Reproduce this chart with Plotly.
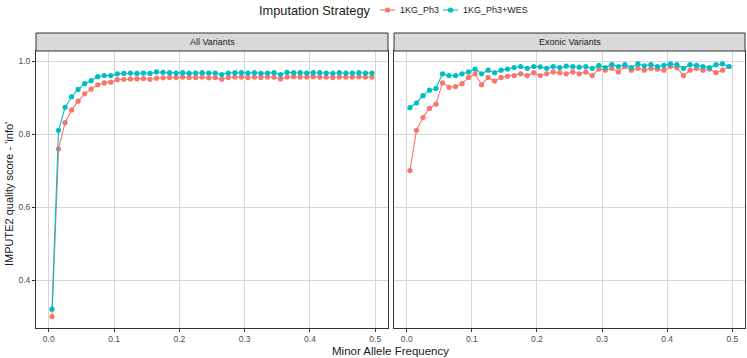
import plotly.graph_objects as go

maf = [0.005, 0.015, 0.025, 0.035, 0.045, 0.055, 0.065, 0.075, 0.085, 0.095,
       0.105, 0.115, 0.125, 0.135, 0.145, 0.155, 0.165, 0.175, 0.185, 0.195,
       0.205, 0.215, 0.225, 0.235, 0.245, 0.255, 0.265, 0.275, 0.285, 0.295,
       0.305, 0.315, 0.325, 0.335, 0.345, 0.355, 0.365, 0.375, 0.385, 0.395,
       0.405, 0.415, 0.425, 0.435, 0.445, 0.455, 0.465, 0.475, 0.485, 0.495]

all_1kg = [0.300, 0.759, 0.831, 0.866, 0.890, 0.910, 0.923, 0.935, 0.940, 0.942,
           0.949, 0.950, 0.951, 0.951, 0.952, 0.950, 0.953, 0.954, 0.955, 0.955,
           0.956, 0.955, 0.955, 0.956, 0.954, 0.955, 0.950, 0.955, 0.956, 0.956,
           0.955, 0.956, 0.955, 0.956, 0.956, 0.951, 0.956, 0.957, 0.956, 0.956,
           0.957, 0.956, 0.956, 0.955, 0.956, 0.956, 0.956, 0.957, 0.956, 0.956]

all_wes = [0.320, 0.810, 0.873, 0.902, 0.922, 0.938, 0.946, 0.957, 0.960, 0.960,
           0.965, 0.966, 0.967, 0.966, 0.967, 0.966, 0.970, 0.969, 0.968, 0.967,
           0.968, 0.966, 0.967, 0.968, 0.967, 0.967, 0.963, 0.967, 0.968, 0.968,
           0.967, 0.968, 0.966, 0.967, 0.968, 0.963, 0.969, 0.968, 0.968, 0.967,
           0.968, 0.968, 0.967, 0.966, 0.968, 0.967, 0.967, 0.968, 0.967, 0.967]

exo_1kg = [0.700, 0.810, 0.845, 0.870, 0.882, 0.940, 0.928, 0.930, 0.938, 0.955,
           0.965, 0.935, 0.955, 0.945, 0.955, 0.958, 0.960, 0.965, 0.960, 0.968,
           0.960, 0.965, 0.970, 0.968, 0.965, 0.970, 0.965, 0.970, 0.960, 0.978,
           0.975, 0.980, 0.970, 0.985, 0.975, 0.980, 0.975, 0.980, 0.978, 0.975,
           0.985, 0.982, 0.960, 0.975, 0.980, 0.975, 0.978, 0.968, 0.975, 0.985]

exo_wes = [0.872, 0.885, 0.905, 0.920, 0.925, 0.965, 0.960, 0.960, 0.965, 0.970,
           0.978, 0.965, 0.975, 0.968, 0.975, 0.978, 0.982, 0.985, 0.980, 0.985,
           0.984, 0.980, 0.985, 0.982, 0.986, 0.985, 0.983, 0.985, 0.980, 0.988,
           0.982, 0.990, 0.985, 0.990, 0.982, 0.992, 0.987, 0.990, 0.985, 0.988,
           0.992, 0.990, 0.980, 0.990, 0.988, 0.985, 0.982, 0.990, 0.992, 0.985]

panel_titles = ["All Variants", "Exonic Variants"]
series_names = ["1KG_Ph3", "1KG_Ph3+WES"]
legend_title = "Imputation Strategy"
colors = ["#F8766D", "#00BFC4"]
x_ticks = [0.0, 0.1, 0.2, 0.3, 0.4, 0.5]
x_ticklabels = ["0.0", "0.1", "0.2", "0.3", "0.4", "0.5"]
y_ticks = [0.4, 0.6, 0.8, 1.0]
y_ticklabels = ["0.4", "0.6", "0.8", "1.0"]

FONT = "Liberation Sans"
W, H = 747, 358


def px(x):
    return x / W


def py(y):
    return 1 - y / H


dom1 = [px(36), px(388)]
dom2 = [px(394), px(745)]
ydom = [py(328), py(51)]
strip_top = py(33)

fig = go.Figure()
panels = [(all_1kg, all_wes, "x", "y"), (exo_1kg, exo_wes, "x2", "y2")]
for pi, (s1, s2, xa, ya) in enumerate(panels):
    for si, vals in enumerate([s1, s2]):
        fig.add_trace(go.Scatter(
            x=maf, y=vals, mode="lines+markers", name=series_names[si],
            line=dict(color=colors[si], width=1.1),
            marker=dict(color=colors[si], size=5.2),
            xaxis=xa, yaxis=ya, showlegend=False,
        ))

tickfont = dict(family=FONT, size=8.5, color="#4d4d4d")
x_common = dict(
    range=[-0.0195, 0.5195], tickvals=x_ticks, ticktext=x_ticklabels,
    showgrid=True, gridcolor="#d6d6d6", gridwidth=1, zeroline=False,
    showline=True, mirror=True, linecolor="#333333", linewidth=1,
    ticks="outside", ticklen=3, tickcolor="#333333", tickfont=tickfont,
    automargin=False,
)
y_common = dict(
    range=[0.2685, 1.0274], tickvals=y_ticks, ticktext=y_ticklabels,
    showgrid=True, gridcolor="#d6d6d6", gridwidth=1, zeroline=False,
    showline=True, mirror=True, linecolor="#333333", linewidth=1,
    tickcolor="#333333", tickfont=tickfont, domain=ydom, automargin=False,
)

fig.update_layout(
    width=W, height=H,
    margin=dict(l=0, r=0, t=0, b=0),
    paper_bgcolor="white", plot_bgcolor="white",
    xaxis=dict(domain=dom1, anchor="y", **x_common),
    xaxis2=dict(domain=dom2, anchor="y2", **x_common),
    yaxis=dict(anchor="x", ticks="outside", ticklen=3, **y_common),
    yaxis2=dict(anchor="x2", ticks="", showticklabels=False, **y_common),
    showlegend=False,
    font=dict(family=FONT),
)

# facet strips
for dom, title in zip([dom1, dom2], panel_titles):
    fig.add_shape(type="rect", xref="paper", yref="paper",
                  x0=dom[0], x1=dom[1], y0=ydom[1], y1=strip_top,
                  fillcolor="#d9d9d9", line=dict(color="#333333", width=1))
    fig.add_annotation(x=(dom[0] + dom[1]) / 2, y=(ydom[1] + strip_top) / 2,
                       xref="paper", yref="paper", text=title, showarrow=False,
                       font=dict(family=FONT, size=9, color="#1a1a1a"),
                       xanchor="center", yanchor="middle")

# axis titles
fig.add_annotation(x=px(390.5), y=py(351), xref="paper", yref="paper",
                   text="Minor Allele Frequency", showarrow=False,
                   font=dict(family=FONT, size=11.5, color="#1a1a1a"),
                   xanchor="center", yanchor="middle")
fig.add_annotation(x=px(9), y=py(194), xref="paper", yref="paper",
                   text="IMPUTE2 quality score - 'info'", showarrow=False, textangle=-90,
                   font=dict(family=FONT, size=11, color="#1a1a1a"),
                   xanchor="center", yanchor="middle")

# legend (ggplot-style, top centred)
leg_y = 10
fig.add_annotation(x=px(257), y=py(leg_y), xref="paper", yref="paper",
                   text=legend_title, showarrow=False,
                   font=dict(family=FONT, size=12.8, color="#1a1a1a"),
                   xanchor="left", yanchor="middle")
leg_items = [(380, 398), (443, 461)]
for (sx, tx), name, col in zip(leg_items, series_names, colors):
    fig.add_shape(type="line", xref="paper", yref="paper",
                  x0=px(sx), x1=px(sx + 15), y0=py(leg_y), y1=py(leg_y),
                  line=dict(color=col, width=1.1))
    fig.add_shape(type="circle", xref="paper", yref="paper",
                  xsizemode="pixel", ysizemode="pixel",
                  xanchor=px(sx + 7.5), yanchor=py(leg_y),
                  x0=-2.6, x1=2.6, y0=-2.6, y1=2.6,
                  fillcolor=col, line=dict(color=col, width=0))
    fig.add_annotation(x=px(tx), y=py(leg_y), xref="paper", yref="paper",
                       text=name, showarrow=False,
                       font=dict(family=FONT, size=9, color="#1a1a1a"),
                       xanchor="left", yanchor="middle")

fig.write_html("out.html", config={"displayModeBar": False},
               post_script="document.body.style.margin='0';document.body.style.overflow='hidden';")
